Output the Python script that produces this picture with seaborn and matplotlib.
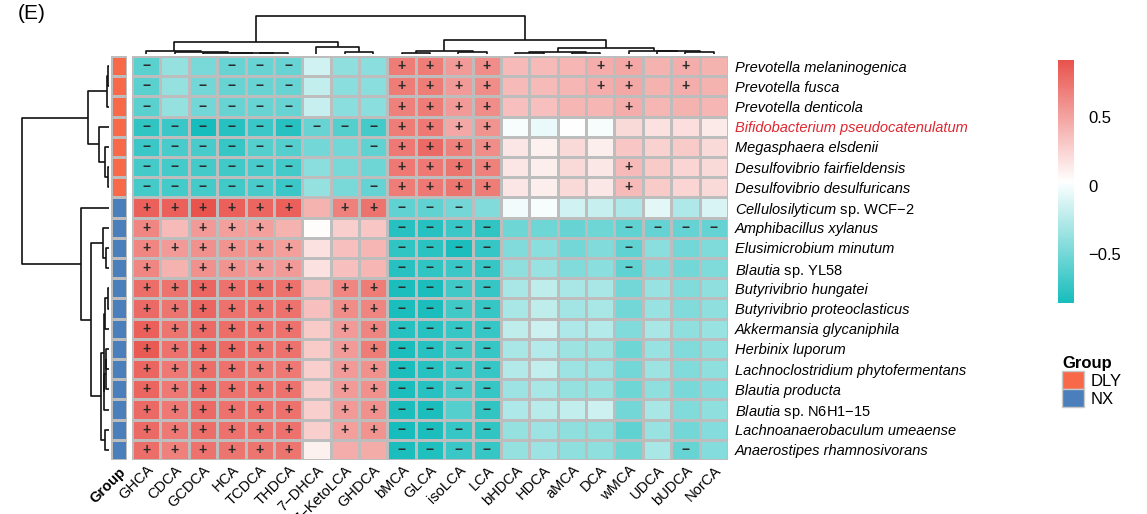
import numpy as np
import pandas as pd
import seaborn as sns
import matplotlib.pyplot as plt
from matplotlib.colors import LinearSegmentedColormap
from matplotlib.patches import Patch

plt.rcParams['font.family'] = ['Liberation Sans', 'DejaVu Sans']
plt.rcParams['mathtext.fontset'] = 'custom'
plt.rcParams['mathtext.it'] = 'Liberation Sans:italic'
plt.rcParams['mathtext.rm'] = 'Liberation Sans'

# Acidos biliares (columnas) y especies (filas)
bile_acids = ["GHCA", "CDCA", "GCDCA", "HCA", "TCDCA", "THDCA", "7\u2212DHCA",
              "7\u2212KetoLCA", "GHDCA", "bMCA", "GLCA", "isoLCA", "LCA", "bHDCA",
              "HDCA", "aMCA", "DCA", "wMCA", "UDCA", "bUDCA", "NorCA"]

species = ["Prevotella melaninogenica", "Prevotella fusca", "Prevotella denticola",
           "Bifidobacterium pseudocatenulatum", "Megasphaera elsdenii",
           "Desulfovibrio fairfieldensis", "Desulfovibrio desulfuricans",
           "Cellulosilyticum sp. WCF\u22122", "Amphibacillus xylanus",
           "Elusimicrobium minutum", "Blautia sp. YL58", "Butyrivibrio hungatei",
           "Butyrivibrio proteoclasticus", "Akkermansia glycaniphila",
           "Herbinix luporum", "Lachnoclostridium phytofermentans",
           "Blautia producta", "Blautia sp. N6H1\u221215",
           "Lachnoanaerobaculum umeaense", "Anaerostipes rhamnosivorans"]

groups = ["DLY"] * 7 + ["NX"] * 13
group_colors = {"DLY": "#F8694A", "NX": "#4A7FBC"}

# Correlaciones estimadas a partir de la figura
corr = [
    [-0.60, -0.38, -0.48, -0.55, -0.55, -0.55, -0.15, -0.40, -0.42, 0.70, 0.70, 0.55, 0.62, 0.38, 0.38, 0.40, 0.45, 0.48, 0.42, 0.45, 0.42],
    [-0.60, -0.38, -0.50, -0.55, -0.55, -0.55, -0.20, -0.42, -0.42, 0.70, 0.70, 0.55, 0.62, 0.38, 0.38, 0.40, 0.45, 0.48, 0.42, 0.45, 0.42],
    [-0.60, -0.38, -0.50, -0.55, -0.55, -0.55, -0.18, -0.42, -0.42, 0.68, 0.70, 0.55, 0.62, 0.35, 0.35, 0.40, 0.40, 0.45, 0.40, 0.42, 0.40],
    [-0.76, -0.72, -0.86, -0.80, -0.72, -0.80, -0.55, -0.62, -0.68, 0.70, 0.72, 0.48, 0.58, 0.00, -0.05, 0.03, 0.00, 0.22, 0.18, 0.20, 0.14],
    [-0.72, -0.66, -0.66, -0.74, -0.62, -0.62, -0.50, -0.50, -0.58, 0.72, 0.80, 0.68, 0.62, 0.16, 0.10, 0.22, 0.12, 0.32, 0.26, 0.30, 0.22],
    [-0.68, -0.68, -0.68, -0.70, -0.66, -0.68, -0.42, -0.48, -0.52, 0.72, 0.72, 0.74, 0.68, 0.16, 0.12, 0.22, 0.15, 0.38, 0.30, 0.25, 0.22],
    [-0.68, -0.68, -0.68, -0.70, -0.66, -0.72, -0.38, -0.48, -0.56, 0.70, 0.72, 0.74, 0.70, 0.16, 0.12, 0.22, 0.15, 0.38, 0.30, 0.25, 0.22],
    [0.85, 0.85, 0.92, 0.85, 0.82, 0.85, 0.42, 0.68, 0.75, -0.58, -0.58, -0.50, -0.45, -0.02, 0.00, -0.15, -0.18, -0.28, -0.08, -0.28, -0.12],
    [0.65, 0.38, 0.55, 0.52, 0.52, 0.42, 0.05, 0.28, 0.32, -0.80, -0.80, -0.72, -0.76, -0.52, -0.52, -0.55, -0.52, -0.58, -0.56, -0.56, -0.56],
    [0.65, 0.55, 0.60, 0.58, 0.58, 0.52, 0.18, 0.35, 0.40, -0.76, -0.78, -0.84, -0.74, -0.45, -0.42, -0.50, -0.45, -0.58, -0.42, -0.50, -0.46],
    [0.65, 0.42, 0.60, 0.58, 0.55, 0.55, 0.18, 0.35, 0.40, -0.80, -0.76, -0.72, -0.74, -0.40, -0.36, -0.45, -0.42, -0.58, -0.45, -0.50, -0.46],
    [0.78, 0.75, 0.82, 0.76, 0.78, 0.76, 0.35, 0.65, 0.70, -0.84, -0.84, -0.70, -0.74, -0.30, -0.22, -0.30, -0.30, -0.50, -0.36, -0.45, -0.40],
    [0.80, 0.74, 0.82, 0.76, 0.76, 0.76, 0.35, 0.62, 0.66, -0.84, -0.84, -0.70, -0.74, -0.30, -0.22, -0.32, -0.30, -0.50, -0.36, -0.45, -0.40],
    [0.85, 0.74, 0.80, 0.78, 0.76, 0.76, 0.30, 0.55, 0.66, -0.80, -0.80, -0.74, -0.74, -0.22, -0.16, -0.28, -0.25, -0.45, -0.30, -0.40, -0.36],
    [0.88, 0.76, 0.82, 0.80, 0.76, 0.76, 0.30, 0.55, 0.70, -0.84, -0.80, -0.70, -0.74, -0.30, -0.25, -0.35, -0.35, -0.52, -0.36, -0.45, -0.40],
    [0.82, 0.72, 0.78, 0.76, 0.72, 0.72, 0.28, 0.55, 0.60, -0.84, -0.80, -0.70, -0.74, -0.26, -0.20, -0.34, -0.34, -0.50, -0.35, -0.45, -0.40],
    [0.82, 0.72, 0.80, 0.76, 0.76, 0.76, 0.28, 0.55, 0.60, -0.84, -0.80, -0.66, -0.74, -0.34, -0.30, -0.38, -0.36, -0.52, -0.40, -0.48, -0.44],
    [0.80, 0.72, 0.80, 0.76, 0.76, 0.76, 0.28, 0.55, 0.60, -0.84, -0.84, -0.62, -0.76, -0.28, -0.24, -0.20, -0.16, -0.50, -0.30, -0.45, -0.40],
    [0.80, 0.72, 0.78, 0.76, 0.76, 0.76, 0.28, 0.52, 0.58, -0.86, -0.84, -0.74, -0.76, -0.38, -0.34, -0.40, -0.40, -0.58, -0.36, -0.50, -0.44],
    [0.78, 0.68, 0.76, 0.74, 0.74, 0.74, 0.10, 0.45, 0.46, -0.84, -0.82, -0.72, -0.74, -0.38, -0.34, -0.40, -0.40, -0.52, -0.30, -0.55, -0.44],
]

# Significancia: '+' positiva, '-' negativa, '.' no significativa
signif = [
    "-..---...++++...++.+.",
    "-.----...++++...++.+.",
    "-.----...++++....+...",
    "---------++++........",
    "------..-++++........",
    "------...++++....+...",
    "------..-++++....+...",
    "++++++.++---.........",
    "+.+++....----....----",
    "++++++...----....-...",
    "+.++++...----....-...",
    "++++++.++----........",
    "++++++.++----........",
    "++++++.++----........",
    "++++++.++----........",
    "++++++.++----........",
    "++++++.++----........",
    "++++++.++--.-........",
    "++++++.++----........",
    "++++++...----......-.",
]

df = pd.DataFrame(corr, index=species, columns=bile_acids)
annot = np.array([[{'+': '+', '-': '\u2212', '.': ''}[c] for c in s] for s in signif])
row_cols = pd.DataFrame({"Group": [group_colors[g] for g in groups]}, index=species)


def linkage_ordenado(X):
    # enlace completo (distancia euclidea) uniendo solo grupos vecinos,
    # asi el arbol respeta el orden de filas/columnas de la figura
    X = np.asarray(X, float)
    n = len(X)
    D = np.sqrt(((X[:, None, :] - X[None, :, :]) ** 2).sum(-1))
    grupos = [[i] for i in range(n)]
    ids = list(range(n))
    Z = []
    nuevo = n
    while len(grupos) > 1:
        dists = [D[np.ix_(grupos[k], grupos[k + 1])].max() for k in range(len(grupos) - 1)]
        k = int(np.argmin(dists))
        Z.append([ids[k], ids[k + 1], dists[k], len(grupos[k]) + len(grupos[k + 1])])
        grupos[k] = grupos[k] + grupos[k + 1]
        del grupos[k + 1]
        ids[k] = nuevo
        del ids[k + 1]
        nuevo += 1
    return np.array(Z, float)


row_link = linkage_ordenado(df.values)
col_link = linkage_ordenado(df.values.T)

cmap = LinearSegmentedColormap.from_list("tealred", ["#17BDBC", "#FFFFFF", "#E9534D"])

W, H = 1147, 514


def caja(x0, y0, x1, y1):
    return [x0 / W, 1 - y1 / H, (x1 - x0) / W, (y1 - y0) / H]


g = sns.clustermap(df, row_linkage=row_link, col_linkage=col_link,
                   cmap=cmap, row_colors=row_cols,
                   annot=annot, fmt='',
                   annot_kws={'fontsize': 10, 'color': '#2A2A2A', 'fontweight': 'bold'},
                   linewidths=0.8, linecolor='#BDBDBD',
                   xticklabels=True, yticklabels=True,
                   figsize=(W / 100, H / 100),
                   cbar_kws={'ticks': [-0.5, 0, 0.5]},
                   cbar_pos=tuple(caja(1058, 60, 1074, 303)),
                   tree_kws={'linewidths': 1.2, 'colors': '#111111'},
                   dendrogram_ratio=0.1, colors_ratio=0.015)

g.ax_heatmap.set_position(caja(132, 56, 728, 460))
g.ax_row_colors.set_position(caja(111, 56, 127, 460))
g.ax_row_dendrogram.set_position(caja(18, 56, 109, 460))
g.ax_col_dendrogram.set_position(caja(132, 14, 728, 54))
g.ax_cbar.set_position(caja(1058, 60, 1074, 303))

ax = g.ax_heatmap
ax.set_xlabel('')
ax.set_ylabel('')
ax.tick_params(axis='both', length=0)
ax.tick_params(axis='y', pad=5)
ax.tick_params(axis='x', pad=2)

for lab in ax.get_xticklabels():
    lab.set_rotation(45)
    lab.set_ha('right')
    lab.set_rotation_mode('anchor')
    lab.set_fontsize(10.5)

orden = [species[i] for i in g.dendrogram_row.reordered_ind]
nuevas = []
for nombre in orden:
    if " sp. " in nombre:
        gen, resto = nombre.split(" sp. ")
        nuevas.append(r"$\mathit{" + gen + "}$ sp. " + resto)
    else:
        nuevas.append(nombre)
ax.set_yticks(np.arange(len(orden)) + 0.5)
ax.set_yticklabels(nuevas, rotation=0, fontsize=10.5)
for lab, nombre in zip(ax.get_yticklabels(), orden):
    if " sp. " not in nombre:
        lab.set_fontstyle('italic')
    if nombre.startswith("Bifidobacterium"):
        lab.set_color('#E0262F')

# columna de grupo
rc = g.ax_row_colors
rc.collections[0].set_edgecolor('#BDBDBD')
rc.collections[0].set_linewidth(0.8)
rc.tick_params(axis='both', length=0)
for lab in rc.get_xticklabels():
    lab.set_rotation(45)
    lab.set_ha('right')
    lab.set_rotation_mode('anchor')
    lab.set_fontsize(10.5)
    lab.set_fontweight('bold')

# barra de color
cb = ax.collections[0].colorbar
cb.outline.set_visible(False)
cb.ax.tick_params(length=0, pad=10, labelsize=12)
cb.ax.set_yticklabels(['\u22120.5', '0', '0.5'])

# leyenda del grupo
handles = [Patch(facecolor=group_colors[k], edgecolor='#C8C8C8', label=k) for k in ["DLY", "NX"]]
leg = g.fig.legend(handles=handles, title='Group', loc='upper left',
                   bbox_to_anchor=(1062 / W, 1 - 356 / H), frameon=False,
                   fontsize=12, title_fontproperties={'weight': 'bold', 'size': 12},
                   handlelength=1.3, handleheight=1.3, handletextpad=0.4,
                   labelspacing=0.0, borderaxespad=0, borderpad=0)
leg._legend_box.align = 'left'

g.fig.text(18 / W, 1 - 19 / H, "(E)", fontsize=15)

g.fig.savefig("out.png", dpi=100)
